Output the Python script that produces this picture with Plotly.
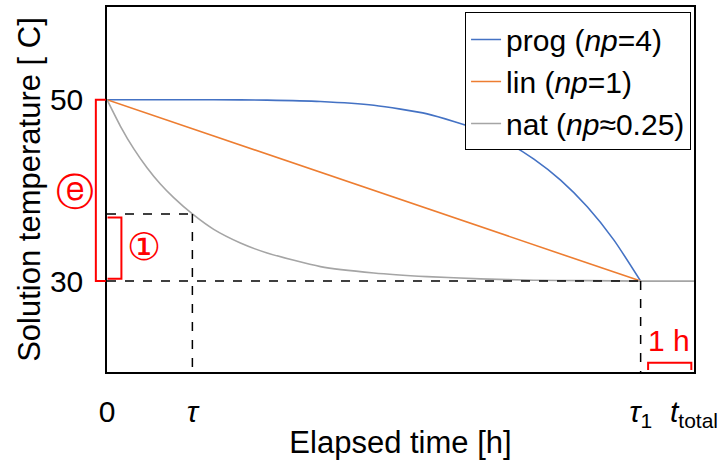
import plotly.graph_objects as go

# ---- data ----
t_prog = [0, 1, 2, 3, 4, 5, 6, 7, 7.5, 8, 8.5, 9, 9.5, 10]
T_prog = [50, 50, 50, 49.95, 49.8, 49.38, 48.44, 46.64, 45.25, 43.45, 41.13, 38.19, 34.52, 30]

t_lin = [0, 10]
T_lin = [50, 30]

t_nat = [0, 0.25, 0.5, 0.75, 1, 1.25, 1.6, 2, 2.5, 3, 4, 5, 6, 7, 8, 9, 10, 11]
T_nat = [50, 47.1, 44.6, 42.5, 40.7, 39.2, 37.4, 35.7, 34.2, 33.1, 31.6, 30.9, 30.5, 30.25, 30.1, 30.05, 30.0, 30.0]

series_names = ["prog (<i>np</i>=4)", "lin (<i>np</i>=1)", "nat (<i>np</i>≈0.25)"]
series_colors = ["#4472C4", "#ED7D31", "#A5A5A5"]

tick_x_vals = [0, 1.6, 10, 11]
tick_x_text = ["0", "<i>τ</i>", "<i>τ</i><sub>1</sub>", "<i>t</i><sub>total</sub>"]
tick_y_vals = [30, 50]

T_start, T_end, T_tau = 50, 30, 37.4
tau, tau1 = 1.6, 10

FONT = "Liberation Sans, Arial, sans-serif"

fig = go.Figure()
for (tx, ty), name, col in zip([(t_prog, T_prog), (t_lin, T_lin), (t_nat, T_nat)],
                               series_names, series_colors):
    fig.add_trace(go.Scatter(x=tx, y=ty, mode="lines", name=name,
                             line=dict(color=col, width=1.6, shape="spline", smoothing=0.6)))

shapes = []
dash = dict(color="black", width=1.5, dash="dash")
# dashed guide lines
shapes.append(dict(type="line", xref="x", yref="y", x0=0, x1=tau1, y0=T_end, y1=T_end, line=dash))
shapes.append(dict(type="line", xref="x", yref="y", x0=0, x1=tau, y0=T_tau, y1=T_tau, line=dash))
shapes.append(dict(type="line", xref="x", yref="y", x0=tau, x1=tau, y0=T_tau, y1=19.98, line=dash))
shapes.append(dict(type="line", xref="x", yref="y", x0=tau1, x1=tau1, y0=T_end, y1=19.98, line=dash))
red = dict(color="#FF0000", width=2)
# big bracket (outside plot, left)
shapes.append(dict(type="path", xref="paper", yref="y",
                   path=f"M -0.002,{T_start} L -0.019,{T_start} L -0.019,{T_end} L -0.002,{T_end}",
                   line=red))
# small bracket
shapes.append(dict(type="path", xref="x", yref="y",
                   path="M 0.01,37.0 L 0.27,37.0 L 0.27,30.25 L 0.01,30.25", line=red))
# 1 h bracket
shapes.append(dict(type="path", xref="x", yref="y",
                   path="M 10.14,20.2 L 10.14,21.0 L 10.95,21.0 L 10.95,20.2", line=red))

annotations = [
    dict(text="ⓔ", xref="paper", yref="y", x=-0.055, y=39.8, xanchor="center", yanchor="middle",
         showarrow=False, font=dict(color="#FF0000", size=38, family=FONT)),
    dict(text="①", xref="x", yref="y", x=0.70, y=33.8, xanchor="center", yanchor="middle",
         showarrow=False, font=dict(color="#FF0000", size=38, family=FONT)),
    dict(text="1 h", xref="x", yref="y", x=10.54, y=23.4, xanchor="center", yanchor="middle",
         showarrow=False, font=dict(color="#FF0000", size=30, family=FONT)),
]

fig.update_layout(
    width=723, height=465,
    margin=dict(l=107, r=28, t=5, b=93),
    paper_bgcolor="white", plot_bgcolor="white",
    font=dict(family=FONT, size=30, color="black"),
    shapes=shapes, annotations=annotations,
    legend=dict(x=0.995, y=0.985, xanchor="right", yanchor="top",
                bgcolor="white", bordercolor="black", borderwidth=1,
                font=dict(size=30), itemwidth=30, tracegroupgap=0),
    xaxis=dict(range=[0, 11], tickvals=tick_x_vals, ticktext=tick_x_text,
               showgrid=False, zeroline=False, showline=True, mirror=True,
               linecolor="black", linewidth=1.5, ticks="", ticklabelstandoff=12,
               title=dict(text="Elapsed time [h]", standoff=0, font=dict(size=31))),
    yaxis=dict(range=[19.98, 60.22], tickvals=tick_y_vals,
               showgrid=False, zeroline=False, showline=True, mirror=True,
               linecolor="black", linewidth=1.5, ticks="", ticklabelstandoff=16,
               title=dict(text="Solution temperature [ C]", standoff=0, font=dict(size=31))),
)

fig.write_html("out.html", config={"displayModeBar": False},
               post_script="document.body.style.margin='0';")
